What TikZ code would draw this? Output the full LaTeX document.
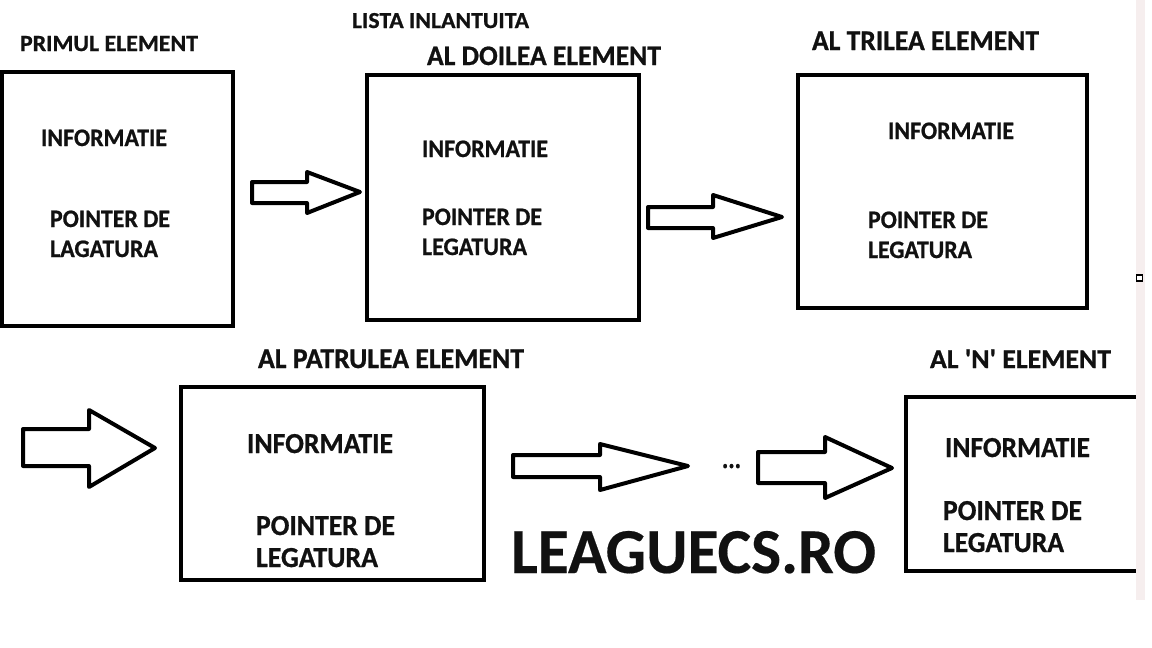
\documentclass[tikz,border=0pt]{standalone}
\usepackage{fontspec}
\setmainfont{Carlito}[BoldFeatures={FakeBold=0.8}]
\newfontfamily\quotefont{Carlito}[Ligatures=TeXOff, BoldFeatures={FakeBold=0.8}]
\newfontfamily\logofont{Carlito}[BoldFeatures={FakeBold=0.3}]
\usepackage{graphicx}
\definecolor{stripc}{HTML}{F6EEEE}
\definecolor{inkc}{HTML}{111111}
\newcommand\fitw[3]{\resizebox{#1pt}{#2pt}{\bfseries #3}}
\tikzset{
  boxline/.style={draw=black, line width=4.5pt, fill=none, inner sep=0pt, outer sep=0pt},
  blockarrow/.style={draw=black, line width=4pt, line join=round, fill=white},
  lbl/.style={anchor=base west, inner sep=0pt, outer sep=0pt, text=inkc},
}
\begin{document}
\begin{tikzpicture}[x=1pt,y=-1pt]
\useasboundingbox (0,0) rectangle (1152,648);
\fill[white] (0,0) rectangle (1152,648);

% headings
\node[lbl] (title) at (352,28) {\fitw{177}{15}{LISTA INLANTUITA}};
\node[lbl] (h1) at (20,51) {\fitw{178}{15}{PRIMUL ELEMENT}};
\node[lbl] (h2) at (427,65) {\fitw{234}{18.5}{AL DOILEA ELEMENT}};
\node[lbl] (h3) at (812,50) {\fitw{227}{18.5}{AL TRILEA ELEMENT}};
\node[lbl] (h4) at (258,368) {\fitw{266}{18.5}{AL PATRULEA ELEMENT}};
\node[lbl] (h5) at (930,368) {\fitw{181}{18.5}{\quotefont AL 'N' ELEMENT}};

% boxes
\node[boxline, anchor=north west, minimum width=231pt, minimum height=254pt] (b1) at (2,72) {};
\node[boxline, anchor=north west, minimum width=272pt, minimum height=245pt] (b2) at (367,75) {};
\node[boxline, anchor=north west, minimum width=289pt, minimum height=233pt] (b3) at (798,75) {};
\node[boxline, anchor=north west, minimum width=303pt, minimum height=193pt] (b4) at (181,387) {};
\node[boxline, anchor=north west, minimum width=250pt, minimum height=174pt] (b5) at (906,397) {};

% box texts
\node[lbl] (i1) at (41,146) {\fitw{126}{16.5}{INFORMATIE}};
\node[lbl] (p1) at (50,227) {\fitw{120}{16.5}{POINTER DE}};
\node[lbl] (l1) at (50,257) {\fitw{108}{16.5}{LAGATURA}};

\node[lbl] (i2) at (422,157) {\fitw{126}{16.5}{INFORMATIE}};
\node[lbl] (p2) at (422,225) {\fitw{120}{16.5}{POINTER DE}};
\node[lbl] (l2) at (422,255) {\fitw{105}{16.5}{LEGATURA}};

\node[lbl] (i3) at (888,139) {\fitw{126}{16.5}{INFORMATIE}};
\node[lbl] (p3) at (868,228) {\fitw{120}{16.5}{POINTER DE}};
\node[lbl] (l3) at (868,258) {\fitw{104}{16.5}{LEGATURA}};

\node[lbl] (i4) at (247,453) {\fitw{146}{19}{INFORMATIE}};
\node[lbl] (p4) at (256,535) {\fitw{139}{19}{POINTER DE}};
\node[lbl] (l4) at (256,567) {\fitw{122}{19}{LEGATURA}};

\node[lbl] (i5) at (945,457) {\fitw{145}{19}{INFORMATIE}};
\node[lbl] (p5) at (943,520) {\fitw{139}{19}{POINTER DE}};
\node[lbl] (l5) at (943,552) {\fitw{121}{19}{LEGATURA}};

% block arrows
\draw[blockarrow] (252,182) -- (307,182) -- (307,172) -- (360,192) -- (307,213) -- (307,203) -- (252,203) -- cycle;
\draw[blockarrow] (648,207) -- (713,207) -- (713,195) -- (782,217) -- (713,238) -- (713,228) -- (648,228) -- cycle;
\draw[blockarrow] (23,429) -- (89,429) -- (89,410) -- (155,448) -- (89,487) -- (89,466) -- (23,466) -- cycle;
\draw[blockarrow] (513,455) -- (600,455) -- (600,444) -- (688,466) -- (600,490) -- (600,477) -- (513,477) -- cycle;
\draw[blockarrow] (758,452) -- (825,452) -- (825,437) -- (892,468) -- (825,498) -- (825,483) -- (758,483) -- cycle;

\node[lbl] (dots) at (722,468) {\fitw{19}{4}{.{}.{}.}};

\node[lbl] (logo) at (511,573) {\resizebox{365pt}{42pt}{\logofont\bfseries LEAGUECS.RO}};

% right strip
\fill[white] (1145,0) rectangle (1152,648);
\fill[white] (1136,600) rectangle (1152,648);
\fill[stripc] (1136,0) rectangle (1145,600);
\node[draw=black, fill=white, line width=1.2pt, minimum size=6pt, inner sep=0pt] (sq) at (1139.5,278) {};
\end{tikzpicture}
\end{document}
